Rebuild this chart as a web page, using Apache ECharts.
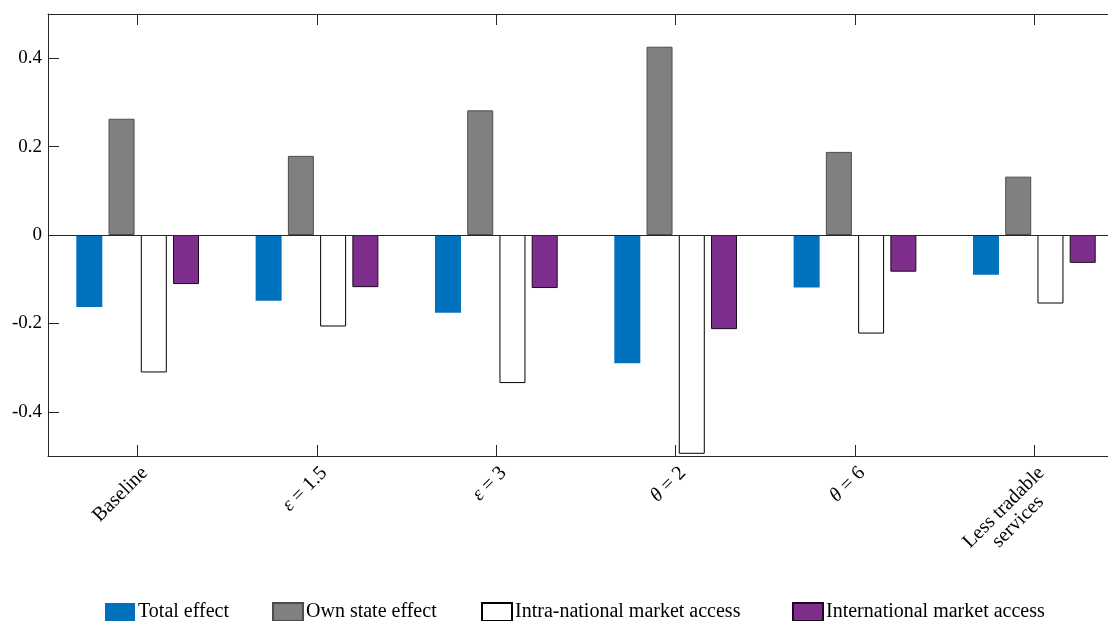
<!DOCTYPE html>
<html>
<head>
<meta charset="utf-8">
<script src="https://cdn.jsdelivr.net/npm/echarts@6/dist/echarts.min.js"></script>
<style>
  html, body { margin: 0; padding: 0; background: #fff; overflow: hidden; }
  /* the plot box runs past the right edge of the picture, as in the figure */
  #chart { width: 1124px; height: 621px; }
</style>
</head>
<body>
<div id="chart"></div>
<script>
// data
const categories = ['Baseline', 'ε = 1.5', 'ε = 3', 'θ = 2', 'θ = 6', 'Less tradable services'];
const totalEffect = [-0.163, -0.149, -0.176, -0.290, -0.119, -0.090];
const ownStateEffect = [0.263, 0.179, 0.282, 0.426, 0.188, 0.132];
const intraNational = [-0.311, -0.207, -0.335, -0.495, -0.223, -0.155];
const international = [-0.111, -0.118, -0.120, -0.213, -0.083, -0.063];
const yTicks = [-0.4, -0.2, 0, 0.2, 0.4];

const FONT = '"Liberation Serif", "DejaVu Serif", serif';
const AXIS = '#262626';

// category label -> rich text (greek letters in italic, 2nd line centred)
function catLabel(v) {
  if (v === 'Less tradable services') return '{c|Less tradable}\n{c|services}';
  const m = v.match(/^([εθ])(.*)$/);
  if (m) return '{i|' + m[1] + '}{n|' + m[2] + '}';
  return '{n|' + v + '}';
}

const chart = echarts.init(document.getElementById('chart'), null, { renderer: 'canvas' });

function bar(name, data, color, border) {
  return {
    name: name,
    type: 'bar',
    data: data,
    barWidth: 26,
    barGap: '24%',
    itemStyle: {
      color: color,
      borderColor: border || color,
      borderWidth: border ? 1 : 0
    }
  };
}

const series = [
  bar('Total effect', totalEffect, '#0072BD'),
  bar('Own state effect', ownStateEffect, '#808080', '#4d4d4d'),
  bar('Intra-national market access', intraNational, '#ffffff', '#000000'),
  bar('International market access', international, '#7E2F8E', '#1a0a1d')
];
series[0].markLine = {
  silent: true,
  symbol: 'none',
  label: { show: false },
  lineStyle: { color: AXIS, width: 1, type: 'solid' },
  data: [{ yAxis: 0 }]
};

const legendPos = [105, 272, 481, 792];

const catTick = { show: true, alignWithLabel: true, interval: 0, inside: true, length: 11, lineStyle: { color: AXIS, width: 1 } };

chart.setOption({
  animation: false,
  textStyle: { fontFamily: FONT },
  grid: { left: 48, top: 14, width: 1076, height: 442 },
  legend: series.map((s, i) => ({
    data: [s.name],
    left: legendPos[i],
    top: 602,
    icon: 'rect',
    itemWidth: 30,
    itemHeight: 18,
    itemGap: 0,
    padding: 0,
    textStyle: { fontFamily: FONT, fontSize: 20, color: '#000', padding: [0, 0, 0, -2] },
    selectedMode: false
  })),
  xAxis: [
    {
      type: 'category',
      data: categories,
      position: 'bottom',
      axisLine: { onZero: false, lineStyle: { color: AXIS, width: 1 } },
      axisTick: catTick,
      axisLabel: {
        rotate: 45,
        margin: 7,
        interval: 0,
        verticalAlign: 'top',
        color: '#000',
        fontFamily: FONT,
        fontSize: 20,
        formatter: catLabel,
        rich: {
          n: { fontFamily: FONT, fontSize: 20, color: '#000' },
          i: { fontFamily: FONT, fontSize: 20, color: '#000', fontStyle: 'italic' },
          c: { fontFamily: FONT, fontSize: 20, color: '#000', align: 'center' }
        }
      },
      splitLine: { show: false }
    },
    {
      type: 'category',
      data: categories,
      position: 'top',
      axisLine: { onZero: false, lineStyle: { color: AXIS, width: 1 } },
      axisTick: catTick,
      axisLabel: { show: true, interval: 0, formatter: () => '', color: 'rgba(0,0,0,0)' },
      splitLine: { show: false }
    }
  ],
  yAxis: {
    type: 'value',
    min: -0.5,
    max: 0.5,
    axisLine: { show: true, lineStyle: { color: AXIS, width: 1 } },
    axisTick: { show: true, inside: true, length: 11, customValues: yTicks, lineStyle: { color: AXIS } },
    axisLabel: {
      customValues: yTicks,
      margin: 6,
      color: '#000',
      fontFamily: FONT,
      fontSize: 19,
      formatter: v => (Math.abs(v) < 1e-9 ? '0' : v.toFixed(1))
    },
    splitLine: { show: false }
  },
  series: series
});
</script>
</body>
</html>
